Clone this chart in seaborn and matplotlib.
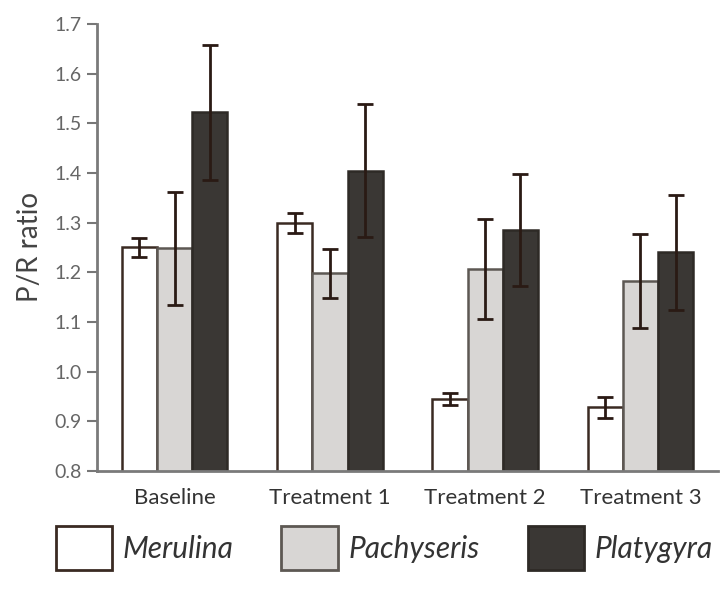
import matplotlib
matplotlib.use("Agg")
import matplotlib.pyplot as plt
import seaborn as sns
import pandas as pd
import numpy as np

categories = ["Baseline", "Treatment 1", "Treatment 2", "Treatment 3"]
species = ["Merulina", "Pachyseris", "Platygyra"]
merulina = [1.25, 1.30, 0.945, 0.928]
pachyseris = [1.248, 1.198, 1.207, 1.183]
platygyra = [1.522, 1.405, 1.285, 1.240]
merulina_err = [0.02, 0.02, 0.013, 0.021]
pachyseris_err = [0.113, 0.049, 0.10, 0.095]
platygyra_err = [0.136, 0.133, 0.113, 0.115]
yticks = [0.8, 0.9, 1.0, 1.1, 1.2, 1.3, 1.4, 1.5, 1.6, 1.7]

means = {"Merulina": merulina, "Pachyseris": pachyseris, "Platygyra": platygyra}
errs = {"Merulina": merulina_err, "Pachyseris": pachyseris_err, "Platygyra": platygyra_err}

rows = []
for sp in species:
    for c, v in zip(categories, means[sp]):
        rows.append({"category": c, "species": sp, "value": v})
df = pd.DataFrame(rows)

sns.set_theme(style="white")
plt.rcParams["font.family"] = ["Lato", "DejaVu Sans"]

fills = {"Merulina": "#ffffff", "Pachyseris": "#d9d6d3", "Platygyra": "#3b3733"}
edges = {"Merulina": "#3a2a22", "Pachyseris": "#5d5853", "Platygyra": "#2e2a26"}

fig = plt.figure(figsize=(7.21, 5.95), dpi=100)
ax = fig.add_axes([0.1345, 0.2084, 0.8615, 0.7513])

sns.barplot(data=df, x="category", y="value", hue="species", order=categories,
            hue_order=species, palette=fills, width=0.68, ax=ax, legend=True,
            errorbar=None)

for sp, cont in zip(species, ax.containers):
    xs = []
    for bar in cont:
        bar.set_edgecolor(edges[sp])
        bar.set_linewidth(1.8)
        xs.append(bar.get_x() + bar.get_width() / 2)
    ax.errorbar(xs, means[sp], yerr=errs[sp], fmt="none", ecolor="#2a1a14",
                elinewidth=2, capsize=6, capthick=2, zorder=5)

ax.set_ylim(0.8, 1.7)
ax.set_xlim(-0.5, 3.5)
ax.set_yticks(yticks)
ax.set_yticklabels([f"{t:.1f}" for t in yticks], fontsize=14, color="#666666")
ax.set_xticks(range(len(categories)))
ax.set_xticklabels(categories, fontsize=16, color="#333333")
ax.set_xticks([-0.5, 0.5, 1.5, 2.5, 3.5], minor=True)
ax.tick_params(axis="x", which="major", length=0, pad=12)
ax.tick_params(axis="x", which="minor", length=6, width=1.5, color="#777777", direction="out")
ax.tick_params(axis="y", which="major", length=7, width=1.5, color="#777777", direction="out", pad=4, left=True)
ax.set_xlabel("")
ax.set_ylabel("P/R ratio", fontsize=20, color="#444444", labelpad=8)
for s in ["top", "right"]:
    ax.spines[s].set_visible(False)
for s in ["left", "bottom"]:
    ax.spines[s].set_color("#7a7a7a")
    ax.spines[s].set_linewidth(2)

handles, labels = ax.get_legend_handles_labels()
ax.get_legend().remove()
for h, sp in zip(handles, species):
    h.set_edgecolor(edges[sp])
    h.set_linewidth(2)
leg = fig.legend(handles, labels, loc="center", bbox_to_anchor=(0.533, 0.079), ncol=3,
                 frameon=False, handlelength=1.9, handleheight=1.9, handletextpad=0.35,
                 columnspacing=1.6, prop={"size": 21.5, "style": "italic"})
for t in leg.get_texts():
    t.set_color("#333333")

fig.savefig("out.png", dpi=100)
